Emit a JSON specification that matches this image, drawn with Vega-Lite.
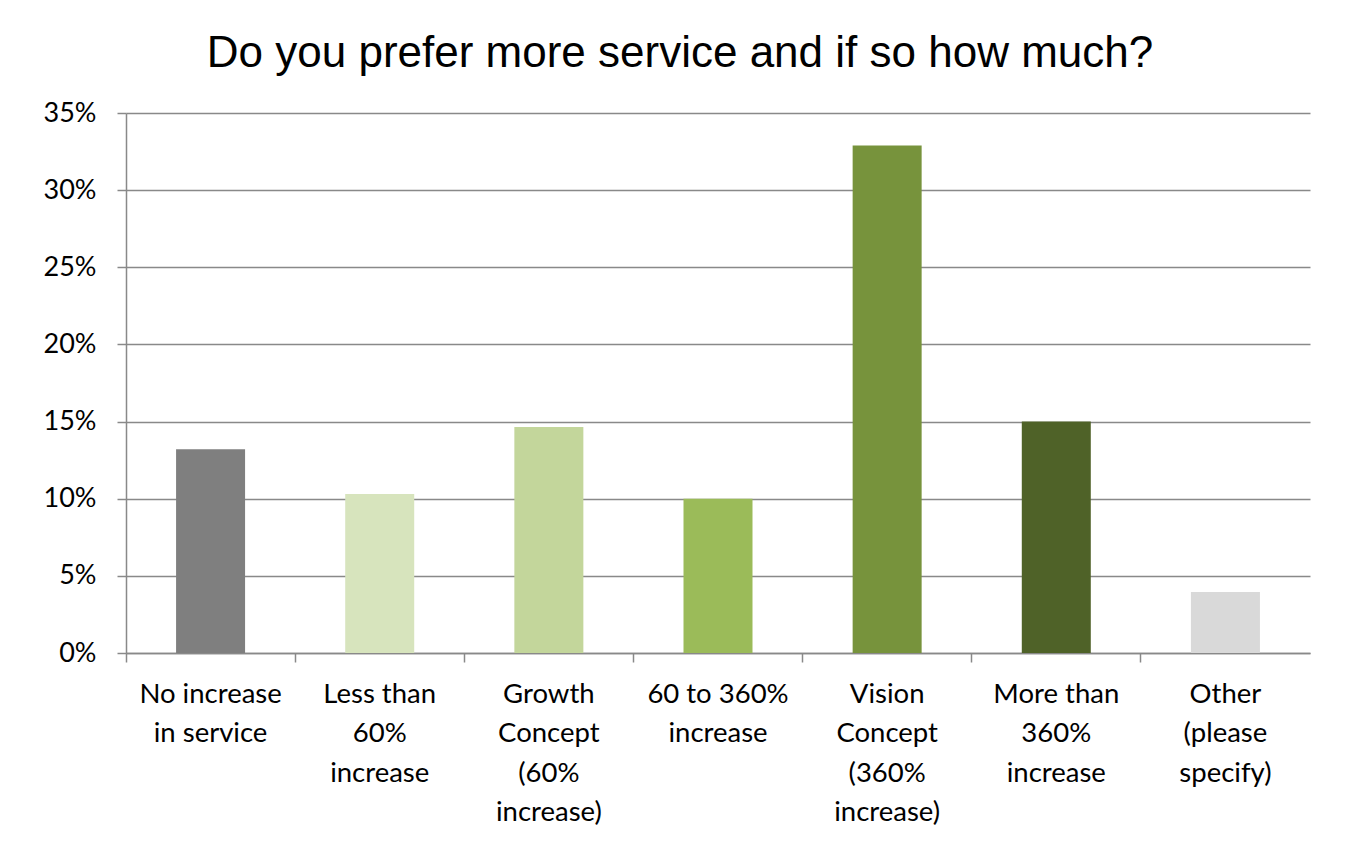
{
  "$schema": "https://vega.github.io/schema/vega-lite/v6.json",
  "width": 1184,
  "height": 540,
  "autosize": "none",
  "padding": {"left": 126, "top": 113, "right": 43, "bottom": 188},
  "background": "white",
  "title": {
    "text": "Do you prefer more service and if so how much?",
    "font": "Liberation Sans",
    "fontSize": 44,
    "fontWeight": "normal",
    "color": "black",
    "anchor": "middle",
    "frame": "group",
    "dx": -38,
    "dy": 57,
    "offset": 45,
    "baseline": "alphabetic"
  },
  "data": {
    "values": [
      {"category": "No increase|in service", "share": 0.132},
      {"category": "Less than|60%|increase", "share": 0.103},
      {"category": "Growth|Concept|(60%|increase)", "share": 0.1465},
      {"category": "60 to 360%|increase", "share": 0.100},
      {"category": "Vision|Concept|(360%|increase)", "share": 0.329},
      {"category": "More than|360%|increase", "share": 0.150},
      {"category": "Other|(please|specify)", "share": 0.0395}
    ]
  },
  "mark": {"type": "bar", "width": 69},
  "encoding": {
    "x": {
      "field": "category",
      "type": "nominal",
      "sort": null,
      "title": null,
      "scale": {"paddingInner": 0, "paddingOuter": 0},
      "axis": {
        "labelExpr": "split(datum.value, '|')",
        "labelAngle": 0,
        "labelFont": "Lato",
        "labelFontSize": 27.5,
        "labelColor": "black",
        "labelLineHeight": 39.5,
        "labelBaseline": "top",
        "labelPadding": 18,
        "labelLimit": 0,
        "bandPosition": 0,
        "ticks": true,
        "tickSize": 9,
        "tickColor": "#898989",
        "tickWidth": 1.5,
        "domainColor": "#898989",
        "domainWidth": 1.5,
        "grid": false
      }
    },
    "y": {
      "field": "share",
      "type": "quantitative",
      "title": null,
      "scale": {"domain": [0, 0.35], "nice": false},
      "axis": {
        "format": ".0%",
        "values": [0, 0.05, 0.1, 0.15, 0.2, 0.25, 0.3, 0.35],
        "labelFont": "Lato",
        "labelFontSize": 27,
        "labelColor": "black",
        "labelPadding": 21,
        "tickSize": 9,
        "tickColor": "#898989",
        "tickWidth": 1.5,
        "domainColor": "#898989",
        "domainWidth": 1.5,
        "grid": true,
        "gridColor": "#898989",
        "gridWidth": 1.5
      }
    },
    "color": {
      "field": "category",
      "type": "nominal",
      "sort": null,
      "legend": null,
      "scale": {"range": ["#7F7F7F", "#D7E4BD", "#C3D69B", "#9BBB59", "#77933C", "#4F6228", "#D9D9D9"]}
    }
  },
  "config": {"view": {"stroke": null}}
}
